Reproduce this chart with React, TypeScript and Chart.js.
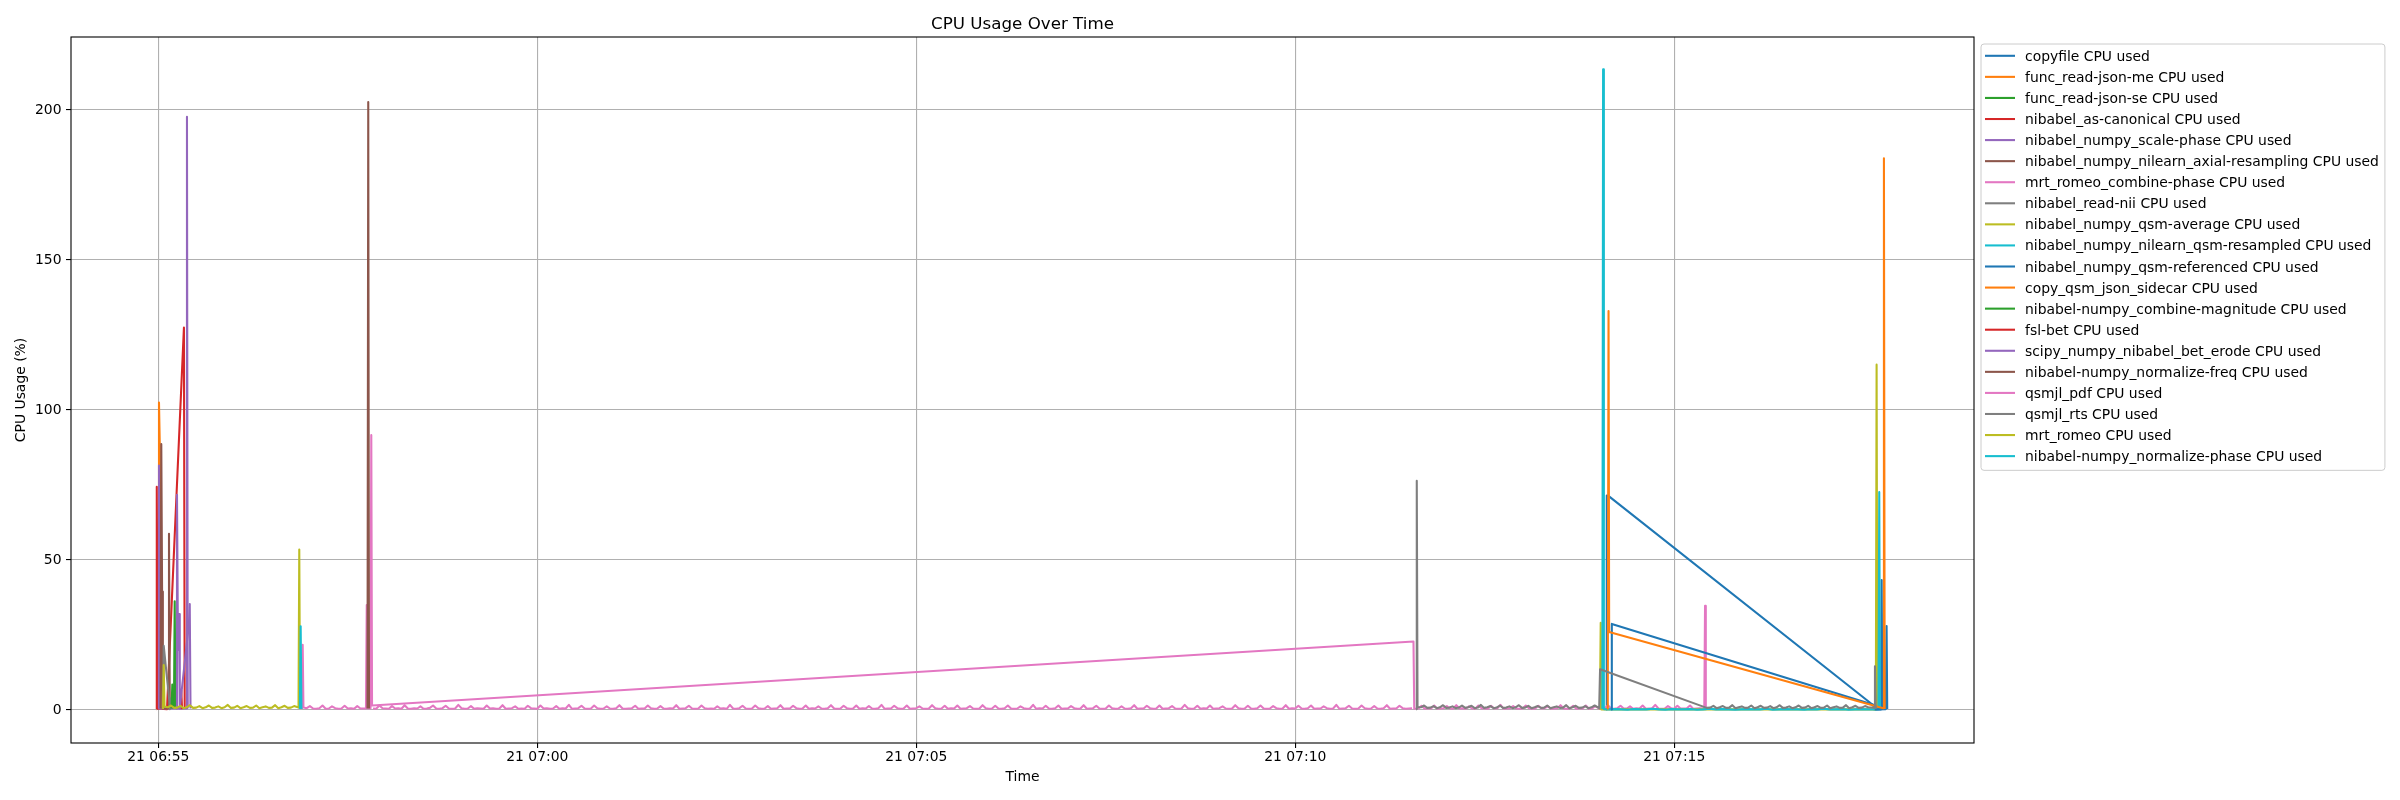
import { useEffect, useRef } from "react";
import { Chart, registerables } from "chart.js";

Chart.register(...registerables);

type Pt = [number, number];

// ---------------- data (time = seconds after 21 06:55:00, value = CPU %) ----------------
const SERIES_NAMES = [
  "copyfile CPU used",
  "func_read-json-me CPU used",
  "func_read-json-se CPU used",
  "nibabel_as-canonical CPU used",
  "nibabel_numpy_scale-phase CPU used",
  "nibabel_numpy_nilearn_axial-resampling CPU used",
  "mrt_romeo_combine-phase CPU used",
  "nibabel_read-nii CPU used",
  "nibabel_numpy_qsm-average CPU used",
  "nibabel_numpy_nilearn_qsm-resampled CPU used",
  "nibabel_numpy_qsm-referenced CPU used",
  "copy_qsm_json_sidecar CPU used",
  "nibabel-numpy_combine-magnitude CPU used",
  "fsl-bet CPU used",
  "scipy_numpy_nibabel_bet_erode CPU used",
  "nibabel-numpy_normalize-freq CPU used",
  "qsmjl_pdf CPU used",
  "qsmjl_rts CPU used",
  "mrt_romeo CPU used",
  "nibabel-numpy_normalize-phase CPU used",
];

const X_TICK_SECONDS = [0, 300, 600, 900, 1200];
const X_TICK_LABELS = ["21 06:55", "21 07:00", "21 07:05", "21 07:10", "21 07:15"];
const Y_TICKS = [0, 50, 100, 150, 200];

const COPYFILE: Pt[] = [[1146.0, 0.2], [1146.6, 71.5], [1148.4, 71.2], [1357.6, 1.6], [1358.2, 0.2], [1363.6, 0.2], [1364.2, 43.3], [1364.8, 0.2]];
const READ_JSON_ME: Pt[] = [[0.0, 0.5], [0.55, 102.5], [1.2, 88], [1.8, 0.5]];
const READ_JSON_SE: Pt[] = [[12.4, 0.5], [13.0, 36.2], [13.6, 0.5]];
const AS_CANONICAL: Pt[] = [[-1.3, 0.3], [-1.2, 74.4], [-0.5, 0.5], [6.9, 0.3], [20.3, 127.5], [20.9, 0.5]];
const SCALE_PHASE: Pt[] = [[0.0, 0.5], [0.55, 81.5], [1.1, 0.5], [22.1, 0.5], [22.7, 197.7], [23.3, 0.5]];
const AXIAL_RESAMPLING: Pt[] = [[1.8, 0.5], [2.37, 88.6], [3.0, 39.5], [3.6, 0.5], [7.9, 0.5], [8.47, 58.7], [9.1, 0.5]];
const COMBINE_PHASE_A: Pt[] = [[113.7, 0.3], [114.3, 21.7], [114.9, 0.8]];
const COMBINE_PHASE_NOISE_A = [0.6, 1.3, 0.5, 0.4, 0.6, 1.5, 0.4, 0.5, 1.2, 0.6, 0.4, 0.5, 1.4, 0.5, 0.6, 0.4, 1.3, 0.5];
const COMBINE_PHASE_B: Pt[] = [[164.4, 0.5], [165.0, 35], [165.6, 0.6], [168.0, 0.5], [168.6, 91.6], [169.2, 1.5], [993.6, 22.8], [994.2, 0.4]];
const COMBINE_PHASE_NOISE_B = [
  0.5, 1.4, 0.4, 0.6, 0.5, 1.5, 0.4, 0.5, 0.6, 1.3,
  0.5, 0.4, 1.6, 0.5, 0.6, 0.4, 1.2, 0.5, 0.4, 1.5,
  0.6, 0.5, 0.4, 1.4, 0.5, 0.6, 1.7, 0.4, 0.5, 0.6,
  1.3, 0.5, 0.4, 0.5, 1.5, 0.6, 0.4, 0.5, 1.4, 0.5,
  0.6, 1.2, 0.4, 0.5, 0.6, 1.6, 0.5, 0.4, 0.5, 1.4,
  0.4, 0.6, 0.5, 1.5, 0.4, 0.5, 1.3, 0.6, 0.4, 0.5,
  1.6, 0.5, 0.4, 0.6, 1.4, 0.5, 0.5, 1.2, 0.4, 0.6,
  0.5, 1.5, 0.4, 0.5, 0.6, 1.7, 0.5, 0.4, 0.5, 1.3,
  0.6, 0.4, 1.4, 0.5, 0.5, 0.6, 1.5, 0.4, 0.5, 0.6,
];
const COMBINE_PHASE_C: Pt[] = [[1223.8, 0.5], [1224.4, 34.7], [1225.0, 0.3]];
const READ_NII: Pt[] = [[3.7, 0.3], [4.3, 21.4], [8.5, 4], [9.2, 0.3]];
const QSM_AVERAGE: Pt[] = [[1141.2, 0.2], [1141.8, 29.1], [1142.4, 0.2], [1359.6, 0.2], [1360.2, 115.1], [1360.8, 0.2]];
const QSM_RESAMPLED_A: Pt[] = [[1143.1, 0.3], [1143.7, 213.5], [1144.3, 0.3]];
const QSM_RESAMPLED_NOISE = [
  0.2, 0.3, 0.2, 0.1, 0.3, 0.2, 0.2, 0.4, 0.2, 0.1,
  0.3, 0.2, 0.2, 0.3, 0.1, 0.2, 0.4, 0.2, 0.3, 0.2,
  0.1, 0.2, 0.3, 0.2, 0.2, 0.4, 0.1, 0.2, 0.3, 0.2,
  0.2, 0.1, 0.3, 0.2, 0.4, 0.2, 0.2, 0.3, 0.1, 0.2,
  0.3, 0.2, 0.2,
];
const QSM_RESAMPLED_B: Pt[] = [[1361.7, 0.3], [1362.3, 72.6], [1362.9, 0.2]];
const QSM_REFERENCED: Pt[] = [[1150.0, 0.2], [1150.6, 28.7], [1358.9, 1.6], [1359.5, 0.2], [1367.5, 0.3], [1368.1, 28], [1368.6, 0.3]];
const JSON_SIDECAR: Pt[] = [[1147.4, 0.2], [1148.0, 133], [1148.5, 26], [1365.5, 0.6], [1366.0, 183.9], [1366.6, 0.3]];
const COMBINE_MAGNITUDE: Pt[] = [[10.5, 0.5], [11.1, 8.5], [11.7, 0.5]];
const FSL_BET: Pt[] = [[17.6, 0.3], [18.2, 6.5], [18.8, 0.3]];
const BET_ERODE: Pt[] = [[14.2, 0.5], [14.8, 71.7], [15.6, 20], [16.4, 32], [17.0, 0.5], [24.3, 29], [24.9, 35.3], [25.5, 0.5]];
const NORMALIZE_FREQ: Pt[] = [[165.6, 0.5], [166.2, 202.6], [166.8, 0.5]];
const QSMJL_PDF_NOISE = [
  0.5, 0.4, 1.5, 0.6, 0.5, 0.4, 1.3, 0.5, 0.6, 0.4,
  1.6, 0.5, 0.4, 0.6, 0.5, 1.2, 0.4, 0.5, 0.7, 1.5,
  0.5, 0.4, 0.6, 1.4, 0.5, 0.4, 0.5, 1.7, 0.6, 0.4,
  0.5, 1.3, 0.4, 0.6, 0.5, 0.4, 1.5, 0.5, 0.6, 0.4,
  0.5, 1.6, 0.4, 0.5, 0.6, 1.2, 0.4, 0.5, 0.4, 1.4,
  0.6, 0.5, 0.4, 1.5, 0.5, 0.6, 0.4, 0.5, 1.3, 0.4,
  0.6, 0.5, 1.7, 0.4, 0.5, 0.6, 1.4, 0.5, 0.4, 0.5,
  1.5, 0.6, 0.4, 0.5, 1.2, 0.5, 0.4, 0.6, 1.6, 0.5,
  0.4, 0.5, 0.6, 1.4, 0.4, 0.5, 0.5, 1.5, 0.6, 0.4,
  0.5, 1.3, 0.5, 0.4, 0.6, 0.5, 1.6, 0.4, 0.5, 0.6,
  1.4, 0.5, 0.4, 0.5, 1.5, 0.6, 0.4, 0.5, 0.4, 1.2,
  0.5, 0.6, 0.4, 1.7, 0.5, 0.4, 0.6, 1.4, 0.5, 0.4,
  0.5, 1.5, 0.6, 0.4, 0.5, 1.3, 0.4, 0.5, 0.6, 1.6,
  0.4, 0.5, 0.5, 1.4, 0.6, 0.4, 0.5, 1.5, 0.4, 0.6,
  0.5, 1.2, 0.5, 0.4, 0.6, 1.6, 0.5, 0.4, 0.5, 1.4,
  0.6, 0.4, 0.5, 1.5, 0.4, 0.6, 0.5, 1.3, 0.5, 0.4,
  0.6, 1.7, 0.4, 0.5, 0.5, 1.4, 0.6, 0.4, 0.5, 1.5,
  0.4, 0.5, 0.6, 1.2, 0.5, 0.4, 0.5, 1.6, 0.6, 0.4,
  0.5, 1.4, 0.4, 0.6, 0.5, 1.5, 0.4, 0.5, 0.6, 1.3,
  0.5, 0.4, 0.5, 1.6, 0.6, 0.4, 0.5, 1.4, 0.5, 0.4,
  0.6, 1.5, 0.5, 0.4, 0.5, 1.2, 0.6, 0.4, 0.5, 1.7,
  0.4, 0.6, 0.5, 1.4, 0.5, 0.4, 0.6, 1.5, 0.4, 0.5,
  0.5, 1.3, 0.6, 0.4, 0.5, 1.6, 0.4, 0.5, 0.6, 1.4,
  0.5, 0.4, 0.5, 1.5, 0.6, 0.4, 0.5, 1.2, 0.5, 0.4,
  0.6, 1.6, 0.4, 0.5, 0.5, 1.4, 0.6, 0.4, 0.5, 1.5,
  0.4, 0.5, 0.6, 1.3, 0.5, 0.4, 0.5, 1.7, 0.6, 0.4,
  0.5, 1.4, 0.4, 0.6, 0.5, 1.5, 0.4, 0.5, 0.6, 1.2,
  0.5, 0.4, 0.5, 1.6, 0.6, 0.4, 0.5, 1.4, 0.5, 0.4,
  0.6, 1.5, 0.5, 0.4, 0.5, 1.3, 0.6, 0.4, 0.5, 1.6,
  0.4, 0.6, 0.5, 1.4, 0.5, 0.4, 0.6, 1.5, 0.4, 0.5,
  0.5, 1.2, 0.6, 0.4, 0.5, 1.7, 0.4, 0.5, 0.6, 1.4,
  0.5, 0.4, 0.5, 1.5, 0.6, 0.4, 0.5, 1.3, 0.5, 0.4,
  0.6, 1.6, 0.4, 0.5, 0.5, 1.4, 0.6, 0.4, 0.5, 0.6,
];
const QSMJL_RTS_A: Pt[] = [[995.6, 0.3], [996.2, 76.4], [996.8, 1.0]];
const QSMJL_RTS_NOISE_A = [
  0.9, 1.5, 0.7, 0.8, 1.3, 0.6, 0.9, 1.6, 0.7, 0.8,
  1.2, 0.6, 0.8, 1.5, 0.7, 0.9, 1.4, 0.6, 0.8, 1.7,
  0.7, 0.9, 1.3, 0.6, 0.8, 1.5, 0.7, 0.8, 1.2, 0.6,
  0.9, 1.6, 0.7, 0.8, 1.4, 0.6, 0.9, 1.3, 0.7, 0.8,
  1.5, 0.6, 0.9, 1.2, 0.7, 0.8, 1.6, 0.6, 0.9, 1.4,
  0.7, 0.8, 1.3, 0.6, 0.9, 1.5,
];
const QSMJL_RTS_B: Pt[] = [[1140.6, 0.6], [1141.3, 13.6], [1225.7, 0.7]];
const QSMJL_RTS_NOISE_B = [
  0.8, 1.4, 0.6, 0.9, 1.3, 0.7, 0.8, 1.6, 0.6, 0.9,
  1.2, 0.7, 0.8, 1.5, 0.6, 0.9, 1.4, 0.7, 0.8, 1.3,
  0.6, 0.9, 1.6, 0.7, 0.8, 1.2, 0.6, 0.9, 1.5, 0.7,
  0.8, 1.4, 0.6, 0.9, 1.3, 0.7, 0.8, 1.5, 0.6, 0.9,
  1.2, 0.7, 0.8, 1.6, 0.6, 0.9, 1.4, 0.7, 0.8, 1.3,
  0.9,
];
const QSMJL_RTS_C: Pt[] = [[1358.3, 0.8], [1358.9, 14.6], [1359.5, 0.3]];
const MRT_ROMEO_A: Pt[] = [[3.7, 0.3], [4.27, 15], [4.9, 1.2]];
const MRT_ROMEO_NOISE = [
  0.9, 1.5, 0.7, 0.8, 1.4, 0.6, 0.9, 1.6, 0.7, 0.8,
  1.3, 0.6, 0.9, 1.5, 0.7, 0.8, 1.2, 0.6, 0.9, 1.7,
  0.7, 0.8, 1.4, 0.6, 0.9, 1.3, 0.7, 0.8, 1.5, 0.6,
  0.9, 1.2, 0.7, 0.8, 1.6, 0.6, 0.9, 1.4, 0.7, 0.8,
  1.3,
];
const MRT_ROMEO_B: Pt[] = [[111.0, 0.8], [111.6, 53.5], [112.2, 0.3]];
const NORMALIZE_PHASE: Pt[] = [[112.1, 0.3], [112.7, 27.9], [113.3, 0.3]];

// regularly sampled segments: start second, sampling step (s), recorded values
const sampled = (start: number, step: number, values: number[]): Pt[] =>
  values.map((v, i) => [start + i * step, v] as Pt);

const SERIES_POINTS: Pt[][] = [
  COPYFILE,
  READ_JSON_ME,
  READ_JSON_SE,
  AS_CANONICAL,
  SCALE_PHASE,
  AXIAL_RESAMPLING,
  [...COMBINE_PHASE_A, ...sampled(117.5, 2.5, COMBINE_PHASE_NOISE_A), ...COMBINE_PHASE_B, ...sampled(997.5, 2.5, COMBINE_PHASE_NOISE_B), ...COMBINE_PHASE_C],
  READ_NII,
  QSM_AVERAGE,
  [...QSM_RESAMPLED_A, ...sampled(1148, 5, QSM_RESAMPLED_NOISE), ...QSM_RESAMPLED_B],
  QSM_REFERENCED,
  JSON_SIDECAR,
  COMBINE_MAGNITUDE,
  FSL_BET,
  BET_ERODE,
  NORMALIZE_FREQ,
  sampled(170, 2.5, QSMJL_PDF_NOISE),
  [...QSMJL_RTS_A, ...sampled(999.5, 2.5, QSMJL_RTS_NOISE_A), ...QSMJL_RTS_B, ...sampled(1228.5, 2.5, QSMJL_RTS_NOISE_B), ...QSMJL_RTS_C],
  [...MRT_ROMEO_A, ...sampled(7.5, 2.5, MRT_ROMEO_NOISE), ...MRT_ROMEO_B],
  NORMALIZE_PHASE,
];

// ---------------- styles ----------------
const TAB10 = ["#1f77b4", "#ff7f0e", "#2ca02c", "#d62728", "#9467bd", "#8c564b", "#e377c2", "#7f7f7f", "#bcbd22", "#17becf"];
const FONT = "'DejaVu Sans', 'Liberation Sans', sans-serif";
const FS = 13.9;
const LINE_W = 2.08;

const framePlugin = {
  id: "mplFrame",
  afterDatasetsDraw(chart: any) {
    const { ctx, chartArea: a } = chart;
    ctx.save();
    ctx.strokeStyle = "#000";
    ctx.lineWidth = 1.1;
    ctx.strokeRect(a.left, a.top, a.right - a.left, a.bottom - a.top);
    ctx.restore();
  },
};

const titleLegendPlugin = {
  id: "mplTitleLegend",
  afterDraw(chart: any) {
    const { ctx, chartArea: a } = chart;
    ctx.save();
    // title
    ctx.fillStyle = "#000";
    ctx.font = `16.7px ${FONT}`;
    ctx.textAlign = "center";
    ctx.textBaseline = "alphabetic";
    ctx.fillText("CPU Usage Over Time", (a.left + a.right) / 2, 28.5);

    // legend
    ctx.font = `${FS}px ${FONT}`;
    const left = a.right + 7;
    const top = a.top + 7;
    const rowH = 21.07;
    const textOff = 44;
    let maxW = 0;
    chart.data.datasets.forEach((d: any) => {
      maxW = Math.max(maxW, ctx.measureText(d.label).width);
    });
    const w = textOff + maxW + 6;
    const h = 11.8 + rowH * (chart.data.datasets.length - 1) + 14.2;
    ctx.beginPath();
    const r = 3;
    ctx.moveTo(left + r, top);
    ctx.lineTo(left + w - r, top);
    ctx.arcTo(left + w, top, left + w, top + r, r);
    ctx.lineTo(left + w, top + h - r);
    ctx.arcTo(left + w, top + h, left + w - r, top + h, r);
    ctx.lineTo(left + r, top + h);
    ctx.arcTo(left, top + h, left, top + h - r, r);
    ctx.lineTo(left, top + r);
    ctx.arcTo(left, top, left + r, top, r);
    ctx.closePath();
    ctx.fillStyle = "rgba(255,255,255,0.8)";
    ctx.fill();
    ctx.strokeStyle = "#cccccc";
    ctx.lineWidth = 1;
    ctx.stroke();

    ctx.textAlign = "left";
    chart.data.datasets.forEach((d: any, i: number) => {
      const cy = top + 11.8 + rowH * i;
      ctx.strokeStyle = d.borderColor;
      ctx.lineWidth = LINE_W;
      ctx.beginPath();
      ctx.moveTo(left + 4, cy);
      ctx.lineTo(left + 34, cy);
      ctx.stroke();
      ctx.fillStyle = "#000";
      ctx.fillText(d.label, left + textOff, cy + 5);
    });
    ctx.restore();
  },
};

export default function App() {
  const ref = useRef<HTMLCanvasElement | null>(null);

  useEffect(() => {
    if (!ref.current) return;
    const datasets = SERIES_NAMES.map((name, i) => ({
      label: name,
      data: SERIES_POINTS[i].map(([x, y]) => ({ x, y })),
      borderColor: TAB10[i % 10],
      backgroundColor: TAB10[i % 10],
      borderWidth: LINE_W,
      borderJoinStyle: "round" as const,
      pointRadius: 0,
      tension: 0,
      fill: false,
      order: -i,
    }));

    const chart = new Chart(ref.current, {
      type: "line",
      data: { datasets },
      options: {
        animation: false,
        responsive: false,
        devicePixelRatio: 1,
        events: [],
        layout: { padding: { left: 0, right: 426, top: 37, bottom: 0 } },
        plugins: {
          legend: { display: false },
          tooltip: { enabled: false },
          title: { display: false },
        },
        scales: {
          x: {
            type: "linear",
            min: -69.1,
            max: 1437.3,
            afterBuildTicks: (scale: any) => {
              scale.ticks = X_TICK_SECONDS.map((v) => ({ value: v }));
            },
            afterFit: (scale: any) => {
              scale.height = 57;
            },
            ticks: {
              autoSkip: false,
              maxRotation: 0,
              padding: 1,
              color: "#000",
              font: { family: FONT, size: FS },
              callback: (v: any) => {
                const k = X_TICK_SECONDS.indexOf(Number(v));
                return k >= 0 ? X_TICK_LABELS[k] : "";
              },
            },
            grid: { color: "#b0b0b0", lineWidth: 1.1, tickColor: "#000", tickLength: 5, tickWidth: 1.1 },
            border: { display: false },
            title: {
              display: true,
              text: "Time",
              color: "#000",
              font: { family: FONT, size: FS },
              padding: { top: 0, bottom: 14 },
            },
          },
          y: {
            type: "linear",
            min: -11,
            max: 224.3,
            afterBuildTicks: (scale: any) => {
              scale.ticks = Y_TICKS.map((v) => ({ value: v }));
            },
            afterFit: (scale: any) => {
              scale.width = 71;
            },
            ticks: {
              padding: 4.5,
              color: "#000",
              font: { family: FONT, size: FS },
              callback: (v: any) => String(v),
            },
            grid: { color: "#b0b0b0", lineWidth: 1.1, tickColor: "#000", tickLength: 5, tickWidth: 1.1 },
            border: { display: false },
            title: {
              display: true,
              text: "CPU Usage (%)",
              color: "#000",
              font: { family: FONT, size: FS },
              padding: { top: 13, bottom: 0 },
            },
          },
        },
      },
      plugins: [framePlugin, titleLegendPlugin],
    });
    return () => chart.destroy();
  }, []);

  return (
    <div style={{ position: "fixed", left: 0, top: 0, width: 2400, height: 800, background: "#fff" }}>
      <canvas ref={ref} width={2400} height={800} style={{ width: 2400, height: 800, display: "block" }} />
    </div>
  );
}
